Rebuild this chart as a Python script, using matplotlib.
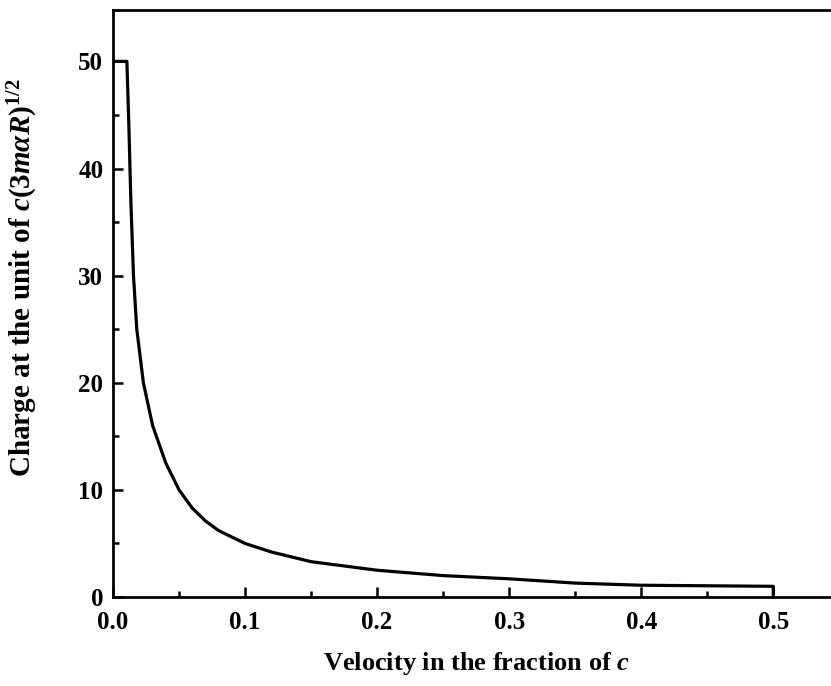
import numpy as np
import matplotlib.pyplot as plt
from matplotlib.ticker import MultipleLocator

# values
velocity = [0.0, 0.0105, 0.012, 0.0135, 0.0155, 0.018, 0.023, 0.03, 0.04, 0.05, 0.06,
            0.07, 0.08, 0.1, 0.12, 0.15, 0.2, 0.25, 0.3, 0.35, 0.4, 0.45, 0.5, 0.5]
charge = [50, 50, 44, 37, 30, 25, 20, 16, 12.5, 10, 8.3,
          7.1, 6.2, 5.0, 4.2, 3.3, 2.5, 2.0, 1.7, 1.3, 1.1, 1.05, 1.0, 0]

xticks = [0.0, 0.1, 0.2, 0.3, 0.4, 0.5]
xticklabels = ["0.0", "0.1", "0.2", "0.3", "0.4", "0.5"]
yticks = [0, 10, 20, 30, 40, 50]

plt.rcParams['font.family'] = ['Liberation Serif', 'DejaVu Serif']
plt.rcParams['font.weight'] = 'bold'
plt.rcParams['axes.labelweight'] = 'bold'
plt.rcParams['mathtext.fontset'] = 'custom'
plt.rcParams['mathtext.rm'] = 'Liberation Serif:bold'
plt.rcParams['mathtext.it'] = 'Liberation Serif:bold:italic'

fig = plt.figure(figsize=(8.31, 6.86), dpi=100)
ax = fig.add_axes([0.136, 0.1297, 0.874, 0.855])

ax.plot(velocity, charge, color='black', lw=2.3)

ax.set_xlim(0, 0.55)
ax.set_ylim(0, 54.75)
ax.set_xticks(xticks)
ax.set_xticklabels(xticklabels)
ax.set_yticks(yticks)
ax.xaxis.set_minor_locator(MultipleLocator(0.05))
ax.yaxis.set_minor_locator(MultipleLocator(5))
ax.tick_params(which='both', direction='in', width=1.8, labelsize=18)
ax.tick_params(axis='x', pad=10)
ax.tick_params(axis='y', pad=7)
ax.tick_params(which='major', length=7)
ax.tick_params(which='minor', length=4)
for s in ax.spines.values():
    s.set_linewidth(2.0)
ax.spines['right'].set_visible(False)

ax.set_xlabel(r"Velocity in the fraction of $c$", fontsize=19)
ax.set_ylabel(r"Charge at the unit of $c(3m\alpha R)^{\mathit{1/2}}$", fontsize=21)
ax.xaxis.set_label_coords(0.5, -0.09)
ax.yaxis.set_label_coords(-0.10, 0.545)

fig.savefig("out.png", dpi=100)
